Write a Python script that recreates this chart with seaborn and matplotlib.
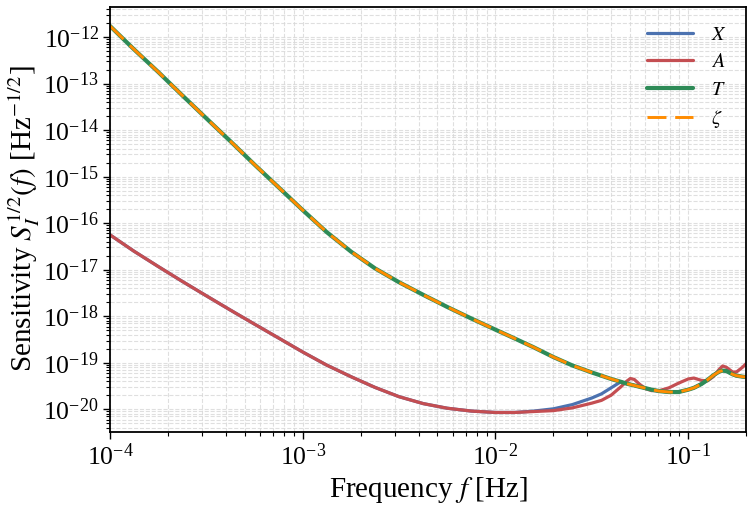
import numpy as np
import pandas as pd
import matplotlib
matplotlib.use("Agg")
import matplotlib.pyplot as plt
import matplotlib.ticker as mticker
import seaborn as sns

# frequency grid [Hz] (denser where the curves wiggle)
freq = [1.00e-4, 1.33e-4, 1.78e-4, 2.37e-4, 3.16e-4, 4.22e-4, 5.62e-4, 7.50e-4,
        1.00e-3, 1.33e-3, 1.78e-3, 2.37e-3, 3.16e-3, 4.22e-3, 5.62e-3, 7.50e-3,
        1.00e-2, 1.26e-2, 1.58e-2, 2.00e-2, 2.51e-2, 3.16e-2, 3.55e-2, 3.98e-2,
        4.47e-2, 4.79e-2, 5.01e-2, 5.25e-2, 5.62e-2, 6.03e-2, 6.46e-2, 7.08e-2,
        7.94e-2, 8.91e-2, 1.00e-1, 1.07e-1, 1.17e-1, 1.26e-1, 1.35e-1, 1.45e-1,
        1.51e-1, 1.58e-1, 1.70e-1, 1.78e-1, 1.91e-1, 2.00e-1]

# sensitivities S^{1/2} [Hz^-1/2]
sens_T = [1.74e-12, 5.50e-13, 1.78e-13, 5.62e-14, 1.80e-14, 5.75e-15, 1.82e-15, 5.89e-16,
          1.91e-16, 6.46e-17, 2.45e-17, 1.07e-17, 5.37e-18, 2.88e-18, 1.58e-18, 8.91e-19,
          5.13e-19, 3.31e-19, 2.14e-19, 1.32e-19, 8.71e-20, 6.17e-20, 5.25e-20, 4.47e-20,
          3.89e-20, 3.55e-20, 3.39e-20, 3.24e-20, 3.02e-20, 2.82e-20, 2.63e-20, 2.45e-20,
          2.34e-20, 2.34e-20, 2.63e-20, 2.88e-20, 3.47e-20, 4.27e-20, 5.37e-20, 6.46e-20,
          6.76e-20, 6.61e-20, 5.62e-20, 5.25e-20, 5.01e-20, 4.90e-20]
sens_zeta = list(sens_T)

sens_A = [5.62e-17, 2.51e-17, 1.17e-17, 5.62e-18, 2.75e-18, 1.35e-18, 6.76e-19, 3.39e-19,
          1.70e-19, 8.91e-20, 5.01e-20, 2.95e-20, 1.86e-20, 1.32e-20, 1.05e-20, 9.12e-21,
          8.51e-21, 8.51e-21, 8.91e-21, 9.33e-21, 1.07e-20, 1.35e-20, 1.55e-20, 2.00e-20,
          3.02e-20, 3.98e-20, 4.57e-20, 4.37e-20, 3.39e-20, 2.75e-20, 2.51e-20, 2.51e-20,
          2.88e-20, 3.63e-20, 4.47e-20, 4.68e-20, 4.17e-20, 4.07e-20, 5.01e-20, 7.24e-20,
          8.51e-20, 7.94e-20, 6.31e-20, 6.31e-20, 7.94e-20, 9.55e-20]

sens_X = [5.62e-17, 2.51e-17, 1.17e-17, 5.62e-18, 2.75e-18, 1.35e-18, 6.76e-19, 3.39e-19,
          1.70e-19, 8.91e-20, 5.01e-20, 2.95e-20, 1.86e-20, 1.32e-20, 1.05e-20, 9.12e-21,
          8.51e-21, 8.51e-21, 9.12e-21, 1.02e-20, 1.26e-20, 1.74e-20, 2.14e-20, 2.88e-20,
          3.89e-20, 3.55e-20, 3.39e-20, 3.24e-20, 3.02e-20, 2.82e-20, 2.63e-20, 2.45e-20,
          2.34e-20, 2.34e-20, 2.63e-20, 2.88e-20, 3.47e-20, 4.27e-20, 5.37e-20, 6.46e-20,
          6.76e-20, 6.61e-20, 5.62e-20, 5.25e-20, 5.01e-20, 4.90e-20]

df = pd.DataFrame({"f": freq, "X": sens_X, "A": sens_A, "T": sens_T, "zeta": sens_zeta})

sns.set_style("white")
plt.rcParams["font.family"] = "serif"
plt.rcParams["font.serif"] = ["Liberation Serif", "DejaVu Serif"]
plt.rcParams["mathtext.fontset"] = "stix"
for key in ["text.color", "axes.labelcolor", "xtick.color", "ytick.color"]:
    plt.rcParams[key] = "black"

fig, ax = plt.subplots(figsize=(7.53, 5.08), dpi=100)
fig.subplots_adjust(left=0.146, right=0.991, top=0.987, bottom=0.150)

sns.lineplot(data=df, x="f", y="X", ax=ax, color="#4C72B0", lw=2.3, label=r"$X$")
sns.lineplot(data=df, x="f", y="A", ax=ax, color="#C44E52", lw=2.3, label=r"$A$")
sns.lineplot(data=df, x="f", y="T", ax=ax, color="#2E8B57", lw=3.0, label=r"$T$")
sns.lineplot(data=df, x="f", y="zeta", ax=ax, color="#FF8C00", lw=2.1,
             dashes=False, label=r"$\zeta$")
ax.lines[-1].set_dashes((6.5, 3.0))

ax.set_xscale("log")
ax.set_yscale("log")
ax.set_xlim(1e-4, 0.2)

for axis in (ax.xaxis, ax.yaxis):
    axis.set_major_locator(mticker.LogLocator(base=10, numticks=30))
    axis.set_minor_locator(mticker.LogLocator(base=10, subs=np.arange(2, 10), numticks=30))
    axis.set_minor_formatter(mticker.NullFormatter())

ax.grid(True, which="both", ls="--", color="#d8d8d8", lw=0.8, alpha=0.8)
ax.tick_params(which="both", direction="out", left=True, bottom=True, labelsize=18.5)
ax.tick_params(which="major", length=5, width=1.0, pad=3)
ax.tick_params(which="minor", length=3, width=0.8)
for s in ax.spines.values():
    s.set_color("black")
    s.set_linewidth(1.3)

ax.set_xlabel(r"Frequency $f$ [Hz]", fontsize=21, labelpad=4)
ax.set_ylabel(r"Sensitivity $S_I^{1/2}(f)$ [Hz$^{-1/2}$]", fontsize=21, labelpad=1)

ax.legend(loc="upper right", frameon=False, fontsize=14.5, handlelength=2.3,
          borderaxespad=0.55, labelspacing=0.42, handletextpad=0.9)

fig.savefig("out.png", dpi=100)
